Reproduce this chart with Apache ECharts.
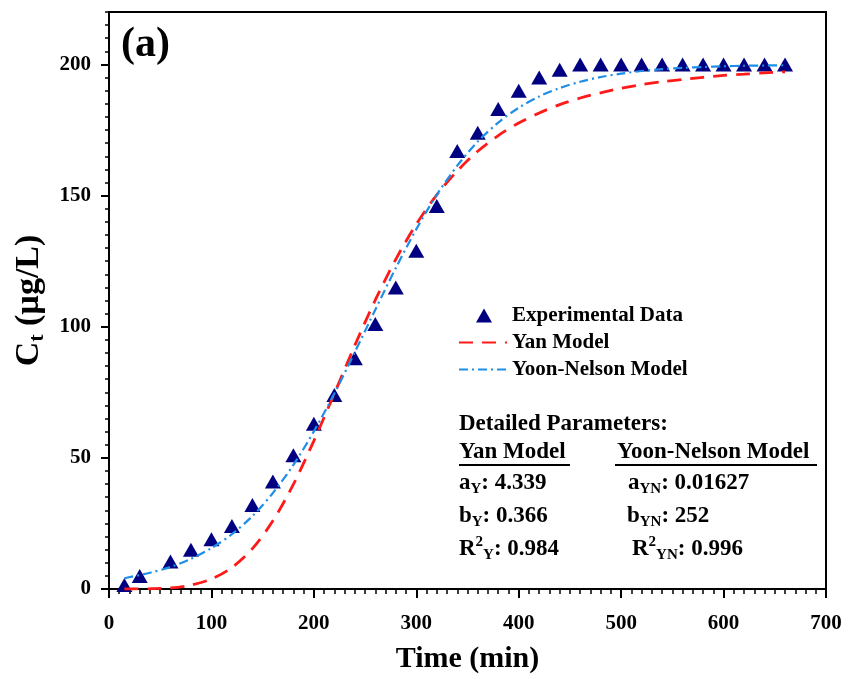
<!DOCTYPE html>
<html>
<head>
<meta charset="utf-8">
<script src="https://cdn.jsdelivr.net/npm/echarts@6/dist/echarts.min.js"></script>
<style>
html,body{margin:0;padding:0;background:#fff;}
#chart{width:848px;height:679px;}
</style>
</head>
<body>
<div id="chart"></div>
<script>
// ---- data ----
const tExp = [15,30,60,80,100,120,140,160,180,200,220,240,260,280,300,320,340,360,380,400,420,440,460,480,500,520,540,560,580,600,620,640,660];
const cExp = [1.5,5,10.5,15,19,24,32,41,51,63,74,88,101,115,129,146,167,174,183,190,195,198,200,200,200,200,200,200,200,200,200,200,200];

const tModel = [15,40,60,80,100,120,140,160,180,200,220,240,260,280,300,320,340,360,380,400,420,440,460,480,500,520,540,560,580,600,620,640,660];
const yanModel = [0,0.1,0.4,1.5,3.8,8.2,15.4,26,39.9,56.5,74.5,92.9,110.2,125.7,139.1,150.3,159.4,166.9,172.9,177.7,181.5,184.7,187.2,189.2,190.9,192.3,193.4,194.3,195.1,195.8,196.3,196.8,197.2];
const ynModel = [4.1,6.2,8.4,11.5,15.6,20.9,27.8,36.6,47.3,60.1,74.5,90.3,106.5,122.4,137.2,150.3,161.4,170.6,177.8,183.5,187.8,191.0,193.4,195.2,196.5,197.5,198.2,198.7,199.0,199.3,199.5,199.6,199.7];

const seriesNames = ['Experimental Data','Yan Model','Yoon-Nelson Model'];
const yTickValues = [0,50,100,150,200];
const yanParams = {a:'4.339', b:'0.366', r2:'0.984'};
const ynParams = {a:'0.01627', b:'252', r2:'0.996'};

// ---- chart ----
const FF = "'Liberation Serif','Times New Roman',serif";
const chart = echarts.init(document.getElementById('chart'));

function pairs(xs, ys){ return xs.map((x,i)=>[x, ys[i]]); }

const richBase = {
  sub:{fontFamily:FF,fontWeight:'bold',fontSize:15,lineHeight:15,verticalAlign:'bottom',fill:'#000'},
  sup:{fontFamily:FF,fontWeight:'bold',fontSize:15,lineHeight:15,verticalAlign:'top',fill:'#000'}
};
function ptext(x, y, text){
  return {type:'text', x:x, y:y, style:{text:text, font:'bold 23px '+FF, fill:'#000', textVerticalAlign:'middle', lineHeight:28, rich:richBase}};
}

// legend triangle icon centred inside the 48x14 legend icon box
const legendTriangle = 'path://M0,0 M48,14 M17,14 L25,0 L33,14 Z';

const option = {
  animation:false,
  backgroundColor:'#fff',
  grid:{left:109, right:22, top:12, bottom:88, show:true, borderColor:'#000', borderWidth:2, backgroundColor:'transparent'},
  xAxis:{
    type:'value', min:0, max:700, interval:100,
    name:'Time (min)', nameLocation:'middle', nameGap:55,
    nameTextStyle:{fontFamily:FF, fontWeight:'bold', fontSize:30, color:'#000'},
    axisLine:{show:true, lineStyle:{color:'#000', width:2}},
    axisTick:{show:true, inside:false, length:9, lineStyle:{color:'#000', width:2}},
    minorTick:{show:true, splitNumber:10, length:5, lineStyle:{color:'#000', width:1.5}},
    axisLabel:{fontFamily:FF, fontWeight:'bold', fontSize:21, color:'#000', margin:24},
    splitLine:{show:false}
  },
  yAxis:[{
    type:'value', min:0, max:220, interval:5,
    name:'{m|C}{s|t}{m| (µg/L)}', nameLocation:'middle', nameGap:59,
    nameTextStyle:{fontFamily:FF, fontWeight:'bold', fontSize:34, color:'#000',
      rich:{m:{fontFamily:FF,fontWeight:'bold',fontSize:34,lineHeight:38,color:'#000'},
            s:{fontFamily:FF,fontWeight:'bold',fontSize:22,lineHeight:22,verticalAlign:'bottom',color:'#000'}}},
    axisLine:{show:true, lineStyle:{color:'#000', width:2}},
    axisTick:{show:true, length:4, lineStyle:{color:'#000', width:1.5}},
    axisLabel:{fontFamily:FF, fontWeight:'bold', fontSize:21, color:'#000', margin:18,
      formatter:function(v){ return yTickValues.indexOf(v) >= 0 ? String(v) : ''; }},
    splitLine:{show:false}
  },{
    type:'value', min:0, max:220, interval:50, position:'left',
    axisLine:{show:false},
    axisTick:{show:true, length:8, lineStyle:{color:'#000', width:2}, customValues:yTickValues},
    axisLabel:{show:false},
    splitLine:{show:false}
  }],
  legend:{
    orient:'vertical', left:453, top:300, itemWidth:48, itemHeight:14, itemGap:6,
    textStyle:{fontFamily:FF, fontWeight:'bold', fontSize:21, color:'#000'},
    data:[
      {name:seriesNames[0], icon:legendTriangle, itemStyle:{color:'#000080', opacity:1}},
      {name:seriesNames[1], itemStyle:{opacity:0}},
      {name:seriesNames[2], itemStyle:{opacity:0}}
    ]
  },
  series:[
    {name:seriesNames[0], type:'scatter', symbol:'triangle', symbolSize:[16,14],
     itemStyle:{color:'#000080', opacity:1}, z:2, data:pairs(tExp, cExp)},
    {name:seriesNames[1], type:'line', smooth:0.3, symbol:'none', showSymbol:false,
     lineStyle:{color:'#ff1a1a', width:2.8, type:[14,9]}, itemStyle:{color:'#ff1a1a'}, z:3,
     data:pairs(tModel, yanModel)},
    {name:seriesNames[2], type:'line', smooth:0.3, symbol:'none', showSymbol:false,
     lineStyle:{color:'#1e8ee6', width:2.2, type:[9,4,2,4]}, itemStyle:{color:'#1e8ee6'}, z:4,
     data:pairs(tModel, ynModel)}
  ],
  graphic:[
    {type:'text', x:121, y:45, style:{text:'(a)', font:'bold 42px '+FF, fill:'#000', textVerticalAlign:'middle'}},
    ptext(459, 424, 'Detailed Parameters:'),
    ptext(459, 452, 'Yan Model'),
    ptext(617, 452, 'Yoon-Nelson Model'),
    {type:'line', shape:{x1:459, y1:465, x2:570, y2:465}, style:{stroke:'#000', lineWidth:2}},
    {type:'line', shape:{x1:615, y1:465, x2:817, y2:465}, style:{stroke:'#000', lineWidth:2}},
    ptext(459, 483, 'a{sub|Y}: ' + yanParams.a),
    ptext(459, 516, 'b{sub|Y}: ' + yanParams.b),
    ptext(459, 549, 'R{sup|2}{sub|Y}: ' + yanParams.r2),
    ptext(628, 483, 'a{sub|YN}: ' + ynParams.a),
    ptext(627, 516, 'b{sub|YN}: ' + ynParams.b),
    ptext(632, 549, 'R{sup|2}{sub|YN}: ' + ynParams.r2)
  ]
};
chart.setOption(option);
</script>
</body>
</html>
